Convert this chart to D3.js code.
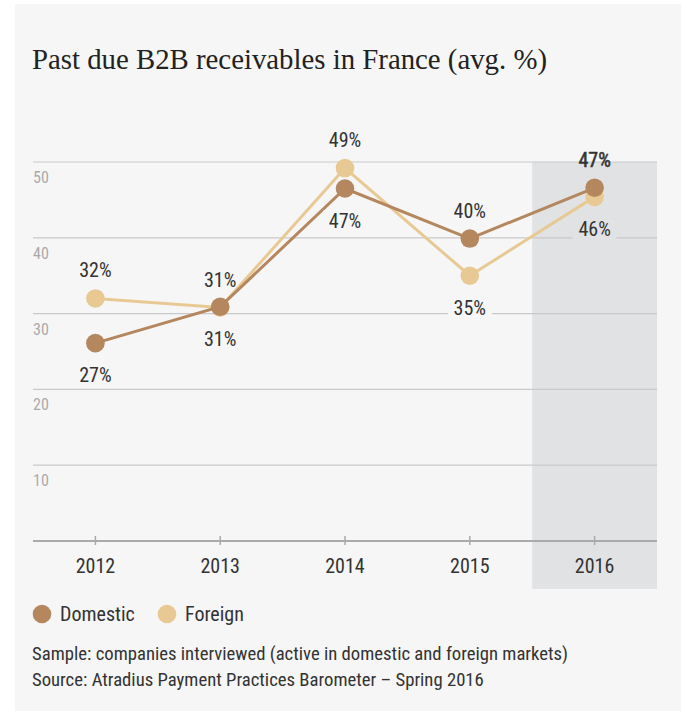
<!DOCTYPE html>
<html>
<head>
<meta charset="utf-8">
<script src="https://cdn.jsdelivr.net/npm/d3@7"></script>
<style>
  html, body { margin: 0; padding: 0; background: #ffffff; }
  svg { display: block; }
</style>
</head>
<body>
<svg id="chart" width="681" height="711"></svg>
<script>
const title = "Past due B2B receivables in France (avg. %)";
const years = ["2012", "2013", "2014", "2015", "2016"];
const domestic = [26.1, 30.9, 46.5, 39.9, 46.6];
const foreign = [32.0, 30.8, 49.2, 35.0, 45.4];
const domesticLabels = ["27%", "31%", "47%", "40%", "47%"];
const foreignLabels = ["32%", "31%", "49%", "35%", "46%"];
const domesticLabelPos = ["below", "below", "below", "above", "above"];
const foreignLabelPos = ["above", "above", "above", "below", "below"];
const yTicks = [10, 20, 30, 40, 50];
const highlightYear = "2016";
const seriesNames = ["Domestic", "Foreign"];
const footnotes = [
  "Sample: companies interviewed (active in domestic and foreign markets)",
  "Source: Atradius Payment Practices Barometer \u2013 Spring 2016"
];

const COL_DOM = "#b5875f";
const COL_FOR = "#e8c994";
const BG = "#f6f6f6";
const BAND = "#e1e2e4";
const SANS = "'Liberation Sans Narrow', 'Roboto Condensed', 'Arial Narrow', 'DejaVu Sans Condensed', sans-serif";
const SERIF = "'Liberation Serif', 'DejaVu Serif', serif";

const svg = d3.select("#chart");
svg.append("rect").attr("x", 15).attr("y", 4).attr("width", 666).attr("height", 707).attr("fill", BG);

svg.append("text").attr("x", 32).attr("y", 69)
  .attr("font-family", SERIF).attr("font-size", 28.8).attr("fill", "#222")
  .text(title);

const x = d3.scaleBand().domain(years).range([33, 657]).padding(0);
const y = d3.scaleLinear().domain([0, 50]).range([541, 162]);
const cx = d => x(d) + x.bandwidth() / 2;

// highlight band
svg.append("rect")
  .attr("x", x(highlightYear)).attr("y", y(50))
  .attr("width", x.bandwidth()).attr("height", 589 - y(50))
  .attr("fill", BAND);

// gridlines
svg.append("g").selectAll("line").data(yTicks).join("line")
  .attr("x1", 33).attr("x2", 657)
  .attr("y1", d => y(d)).attr("y2", d => y(d))
  .attr("stroke", "#c9c9cb").attr("stroke-width", 1.2);

svg.append("g").selectAll("text").data(yTicks).join("text")
  .attr("x", 33).attr("y", d => y(d) + 21)
  .attr("font-family", SANS).attr("font-size", 16).attr("fill", "#aaaaaa")
  .text(d => d);

// x axis
const xAxis = svg.append("g").attr("transform", `translate(0,${y(0)})`)
  .call(d3.axisBottom(x).tickSize(0).tickPadding(0));
xAxis.select(".domain").remove();
xAxis.selectAll(".tick text").remove();
svg.append("line").attr("x1", 33).attr("x2", 657).attr("y1", y(0)).attr("y2", y(0))
  .attr("stroke", "#aaaaaa").attr("stroke-width", 2);
svg.append("g").selectAll("line").data(years).join("line")
  .attr("x1", d => cx(d)).attr("x2", d => cx(d))
  .attr("y1", y(0) - 5).attr("y2", y(0) + 4)
  .attr("stroke", "#aaaaaa").attr("stroke-width", 1.5);
svg.append("g").selectAll("text").data(years).join("text")
  .attr("x", d => cx(d)).attr("y", 573)
  .attr("text-anchor", "middle")
  .attr("font-family", SANS).attr("font-size", 20).attr("fill", "#333")
  .text(d => d);

function drawSeries(vals, color) {
  const pts = years.map((yr, i) => [cx(yr), y(vals[i])]);
  svg.append("path").attr("d", d3.line()(pts))
    .attr("fill", "none").attr("stroke", color).attr("stroke-width", 3);
  svg.append("g").selectAll("circle").data(pts).join("circle")
    .attr("cx", d => d[0]).attr("cy", d => d[1]).attr("r", 9.3)
    .attr("fill", color);
}
drawSeries(foreign, COL_FOR);
drawSeries(domestic, COL_DOM);

function drawLabels(vals, labels, pos) {
  const g = svg.append("g");
  years.forEach((yr, i) => {
    const px = cx(yr), py = y(vals[i]);
    const above = pos[i] === "above";
    const by = above ? py - 21 : py + 39;
    if (!above) {
      g.append("rect")
        .attr("x", px - 22).attr("y", by - 17).attr("width", 44).attr("height", 21)
        .attr("fill", yr === highlightYear ? BAND : BG);
    }
    const t = g.append("text").attr("x", px).attr("y", by)
      .attr("text-anchor", "middle")
      .attr("font-family", SANS).attr("font-size", 20).attr("fill", "#333")
      .text(labels[i]);
    if (yr === highlightYear && above) {
      t.attr("stroke", "#333").attr("stroke-width", 0.5);
    }
  });
}
drawLabels(foreign, foreignLabels, foreignLabelPos);
drawLabels(domestic, domesticLabels, domesticLabelPos);

// legend
const leg = svg.append("g");
const legX = [42, 167];
seriesNames.forEach((n, i) => {
  leg.append("circle").attr("cx", legX[i]).attr("cy", 614).attr("r", 9.3)
    .attr("fill", i === 0 ? COL_DOM : COL_FOR);
  leg.append("text").attr("x", legX[i] + 18).attr("y", 621)
    .attr("font-family", SANS).attr("font-size", 20).attr("fill", "#333")
    .text(n);
});

svg.append("g").selectAll("text").data(footnotes).join("text")
  .attr("x", 32).attr("y", (d, i) => 660 + i * 26)
  .attr("font-family", SANS).attr("font-size", 18.7).attr("fill", "#333")
  .text(d => d);
</script>
</body>
</html>
